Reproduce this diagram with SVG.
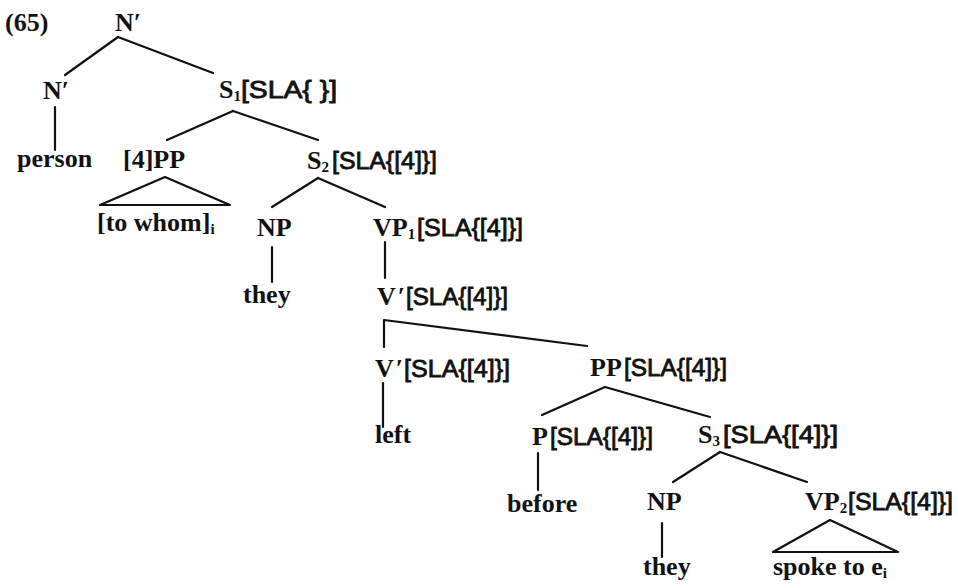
<svg xmlns="http://www.w3.org/2000/svg" width="958" height="588" viewBox="0 0 958 588">
  <style>
    .s { font-family: "Liberation Serif", "Times New Roman", serif; font-size: 26px; font-weight: bold; fill: #111; }
    .a { font-family: "Liberation Sans", Arial, sans-serif; font-size: 23px; font-weight: normal; stroke: #111; stroke-width: 0.8; }
    .b { font-size: 15px; }
    .e { stroke: #111; stroke-width: 2.2; fill: none; stroke-linecap: round; stroke-linejoin: round; }
  </style>
  <rect width="958" height="588" fill="#fff"/>

  <!-- branches of the tree -->
  <g id="connectors" class="e">
    <path d="M118,37 L65,75"/>
    <path d="M118,37 L213,73"/>
    <path d="M55,107 L55,150"/>
    <path d="M233,111 L167,140"/>
    <path d="M233,111 L318,140"/>
    <path d="M165,177 L100,205 L230,205 Z"/>
    <path d="M318,178 L272,207"/>
    <path d="M318,178 L385,207"/>
    <path d="M272,247 L272,282"/>
    <path d="M385,242 L385,278"/>
    <path d="M384,347 L384,320 L587,346"/>
    <path d="M383,383 L383,427"/>
    <path d="M605,387 L542,415"/>
    <path d="M605,387 L710,417"/>
    <path d="M538,453 L538,490"/>
    <path d="M720,452 L673,482"/>
    <path d="M720,452 L807,482"/>
    <path d="M662,523 L662,557"/>
    <path d="M830,520 L773,552 L898,552 Z"/>
  </g>

  <g id="ex-number"><text class="s" x="5" y="31">(65)</text></g>
  <g id="n-bar-top"><text class="s" x="115" y="31">N′</text></g>
  <g id="n-bar"><text class="s" x="43" y="99">N′</text></g>
  <g id="s1"><text class="s" x="219" y="98">S<tspan class="b" dy="3">1</tspan><tspan class="a" x="241" dy="-3" textLength="96" lengthAdjust="spacingAndGlyphs">[SLA{  }]</tspan></text></g>
  <g id="person"><text class="s" x="17" y="167">person</text></g>
  <g id="pp4"><text class="s" x="123" y="168">[4]PP</text></g>
  <g id="s2"><text class="s" x="307" y="169">S<tspan class="b" dy="3">2</tspan><tspan class="a" x="332" dy="-3" textLength="105" lengthAdjust="spacingAndGlyphs">[SLA{[4]}]</tspan></text></g>
  <g id="to-whom"><text class="s" x="97" y="231">[to whom]<tspan class="b" dy="3">i</tspan></text></g>
  <g id="np1"><text class="s" x="257" y="236">NP</text></g>
  <g id="vp1"><text class="s" x="373" y="236">VP<tspan class="b" dy="3">1</tspan><tspan class="a" x="417" dy="-3" textLength="106" lengthAdjust="spacingAndGlyphs">[SLA{[4]}]</tspan></text></g>
  <g id="they1"><text class="s" x="243" y="303">they</text></g>
  <g id="vbar1"><text class="s" x="377" y="305">V<tspan dx="2">′</tspan><tspan class="a" x="406" textLength="102" lengthAdjust="spacingAndGlyphs">[SLA{[4]}]</tspan></text></g>
  <g id="vbar2"><text class="s" x="375" y="377">V<tspan dx="2">′</tspan><tspan class="a" x="404" textLength="106" lengthAdjust="spacingAndGlyphs">[SLA{[4]}]</tspan></text></g>
  <g id="pp"><text class="s" x="590" y="376">PP<tspan class="a" x="624" textLength="103" lengthAdjust="spacingAndGlyphs">[SLA{[4]}]</tspan></text></g>
  <g id="left"><text class="s" x="375" y="443">left</text></g>
  <g id="p"><text class="s" x="532" y="445">P<tspan class="a" x="550" textLength="103" lengthAdjust="spacingAndGlyphs">[SLA{[4]}]</tspan></text></g>
  <g id="s3"><text class="s" x="698" y="443">S<tspan class="b" dy="3">3</tspan><tspan class="a" x="723" dy="-3" textLength="115" lengthAdjust="spacingAndGlyphs">[SLA{[4]}]</tspan></text></g>
  <g id="before"><text class="s" x="507" y="512">before</text></g>
  <g id="np2"><text class="s" x="647" y="510">NP</text></g>
  <g id="vp2"><text class="s" x="805" y="510">VP<tspan class="b" dy="3">2</tspan><tspan class="a" x="848" dy="-3" textLength="105" lengthAdjust="spacingAndGlyphs">[SLA{[4]}]</tspan></text></g>
  <g id="they2"><text class="s" x="643" y="575">they</text></g>
  <g id="spoke"><text class="s" x="773" y="575">spoke to e<tspan class="b" dy="3">i</tspan></text></g>
</svg>
